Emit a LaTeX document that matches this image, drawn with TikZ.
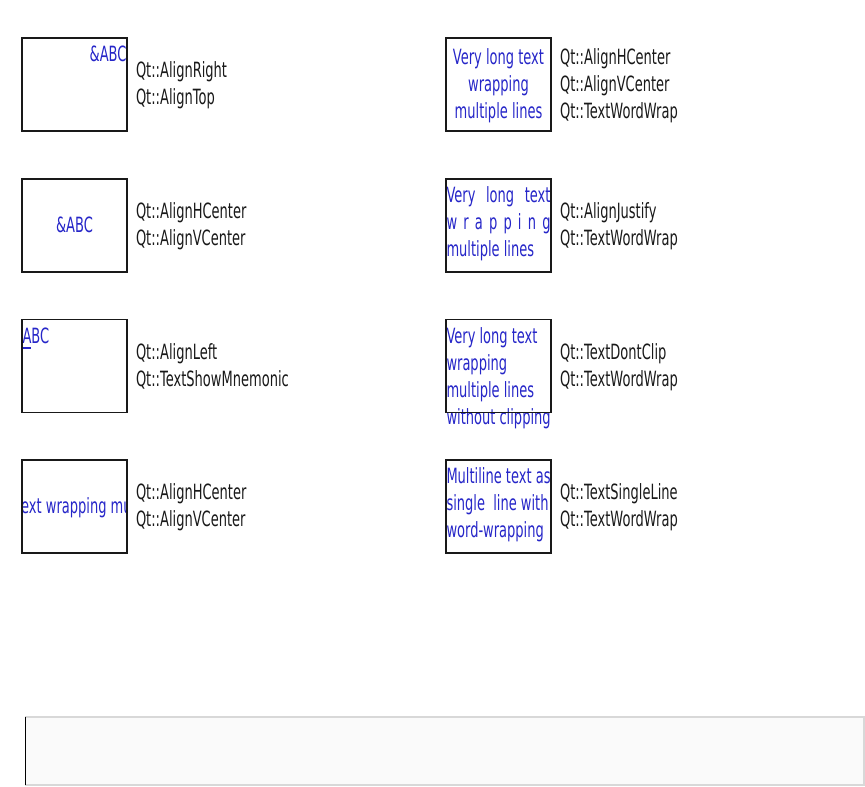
\documentclass[tikz,border=0pt]{standalone}
\usepackage{fontspec}
\newfontfamily\qtfont[FakeStretch=0.62]{DejaVu Sans}
\definecolor{qtblue}{RGB}{38,38,200}
\definecolor{qtink}{RGB}{25,25,25}
\definecolor{panelfill}{RGB}{250,250,250}
\definecolor{panelline}{RGB}{216,216,216}
\begin{document}
\begin{tikzpicture}[x=1pt,y=-1pt,
  every node/.style={inner sep=0pt, outer sep=0pt, font=\qtfont\fontsize{21}{27}\selectfont},
  box/.style={draw=qtink, line width=1.3pt, minimum width=105pt, minimum height=93pt},
  lbl/.style={text=qtink, anchor=base west},
  boxtext/.style={text=qtblue}]
\useasboundingbox (0,0) rectangle (865,787);

% ---- left column texts inside boxes
\node[boxtext, anchor=base east] (L1t) at (126.5,61) {\&ABC};
\node[boxtext, anchor=base] (L2t) at (74.5,232.5) {\&ABC};
\node[boxtext, anchor=base west] (L3a) at (22.5,343) {A};
\node[boxtext, anchor=base west] (L3b) at (L3a.base east) {BC};
\draw[qtblue, line width=1.3pt] ([yshift=-5pt]L3a.base west) -- ([yshift=-5pt]L3a.base east);
\begin{scope}
  \clip (22,460) rectangle (127,553);
  \node[boxtext, anchor=base] (L4t) at (74.5,513) {Very long text wrapping multiple lines};
\end{scope}

% ---- right column texts inside boxes
\node[boxtext, anchor=base] (R1a) at (498.5,64) {Very long text};
\node[boxtext, anchor=base] (R1b) at (498.5,91) {wrapping};
\node[boxtext, anchor=base] (R1c) at (498.5,118) {multiple lines};

\node[boxtext, anchor=base west] (R2a) at (446.5,202) {\makebox[104pt][s]{Very\hfill long\hfill text}};
\node[boxtext, anchor=base west] (R2b) at (446.5,229) {\makebox[104pt][s]{w\hfill r\hfill a\hfill p\hfill p\hfill i\hfill n\hfill g}};
\node[boxtext, anchor=base west] (R2c) at (446.5,256) {multiple lines};

\node[boxtext, anchor=base west] (R3a) at (446.5,343) {Very long text};
\node[boxtext, anchor=base west] (R3b) at (446.5,370) {wrapping};
\node[boxtext, anchor=base west] (R3c) at (446.5,397) {multiple lines};
\node[boxtext, anchor=base west] (R3d) at (446.5,424) {without clipping};

\node[boxtext, anchor=base west] (R4a) at (446.5,483) {Multiline text as};
\node[boxtext, anchor=base west] (R4b) at (446.5,510) {single\ \ line with};
\node[boxtext, anchor=base west] (R4c) at (446.5,537) {word-wrapping};

% ---- boxes
\node[box] (L1) at (74.5,84.5) {};
\node[box] (L2) at (74.5,225.5) {};
\node[box] (L3) at (74.5,366) {};
\node[box] (L4) at (74.5,506.5) {};
\node[box] (R1) at (498.5,84.5) {};
\node[box] (R2) at (498.5,225.5) {};
\node[box] (R3) at (498.5,366) {};
\node[box] (R4) at (498.5,506.5) {};

% ---- labels left
\node[lbl] (L1l1) at (136,77.5) {Qt::AlignRight};
\node[lbl] (L1l2) at (136,104.5) {Qt::AlignTop};
\node[lbl] (L2l1) at (136,218.5) {Qt::AlignHCenter};
\node[lbl] (L2l2) at (136,245.5) {Qt::AlignVCenter};
\node[lbl] (L3l1) at (136,359) {Qt::AlignLeft};
\node[lbl] (L3l2) at (136,386) {Qt::TextShowMnemonic};
\node[lbl] (L4l1) at (136,499.5) {Qt::AlignHCenter};
\node[lbl] (L4l2) at (136,526.5) {Qt::AlignVCenter};

% ---- labels right
\node[lbl] (R1l1) at (560,64) {Qt::AlignHCenter};
\node[lbl] (R1l2) at (560,91) {Qt::AlignVCenter};
\node[lbl] (R1l3) at (560,118) {Qt::TextWordWrap};
\node[lbl] (R2l1) at (560,218.5) {Qt::AlignJustify};
\node[lbl] (R2l2) at (560,245.5) {Qt::TextWordWrap};
\node[lbl] (R3l1) at (560,359) {Qt::TextDontClip};
\node[lbl] (R3l2) at (560,386) {Qt::TextWordWrap};
\node[lbl] (R4l1) at (560,499.5) {Qt::TextSingleLine};
\node[lbl] (R4l2) at (560,526.5) {Qt::TextWordWrap};

% ---- bottom panel
\fill[panelfill] (25,717) rectangle (865,785);
\draw[panelline, line width=1.5pt] (25,717) -- (864,717) -- (864,785) -- (25,785);
\draw[black, line width=1.5pt] (25.5,717) -- (25.5,785);
\end{tikzpicture}
\end{document}
